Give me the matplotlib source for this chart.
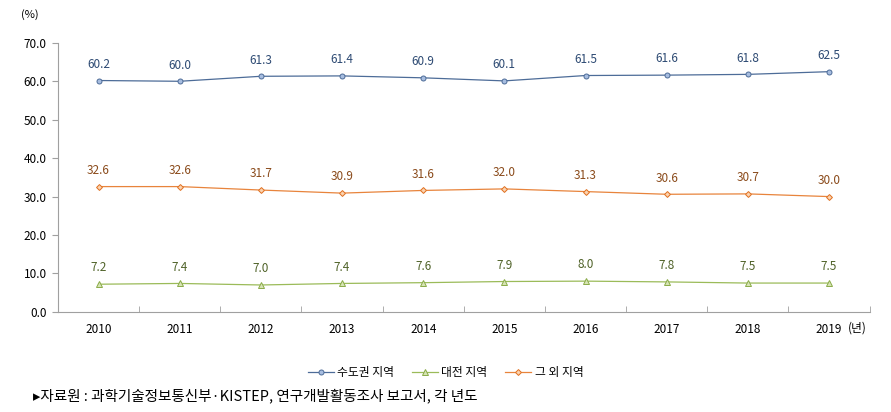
import numpy as np
import matplotlib.pyplot as plt

plt.rcParams['font.family'] = ['Noto Sans CJK KR', 'DejaVu Sans']

years = ['2010', '2011', '2012', '2013', '2014', '2015', '2016', '2017', '2018', '2019']
capital = [60.2, 60.0, 61.3, 61.4, 60.9, 60.1, 61.5, 61.6, 61.8, 62.5]
daejeon = [7.2, 7.4, 7.0, 7.4, 7.6, 7.9, 8.0, 7.8, 7.5, 7.5]
others = [32.6, 32.6, 31.7, 30.9, 31.6, 32.0, 31.3, 30.6, 30.7, 30.0]
series_names = ['수도권 지역', '대전 지역', '그 외 지역']

fig = plt.figure(figsize=(8.91, 4.12), dpi=100)
ax = fig.add_axes([0.065, 0.243, 0.911, 0.653])

x = np.arange(len(years))
styles = [
    (capital, '#4d6c98', '#a7bde0', '#4d6c98', 'o', 3.6, '#2d4a73'),
    (daejeon, '#9bbb59', '#d7e4b5', '#8aab48', '^', 4, '#4f6228'),
    (others, '#e8843c', '#fbd3b0', '#e07020', 'D', 3, '#8a4a1a'),
]
for (vals, lc, mfc, mec, mk, ms, tc), name in zip(styles, series_names):
    ax.plot(x, vals, color=lc, lw=0.9, marker=mk, ms=ms, mfc=mfc, mec=mec,
            mew=0.7, label=name)
    for xi, v in zip(x, vals):
        ax.annotate(f'{v:.1f}', (xi, v), xytext=(0, 7), textcoords='offset points',
                    ha='center', va='bottom', fontsize=8.5, color=tc)

ax.set_xlim(-0.5, len(years) - 0.5)
ax.set_ylim(0, 70)
ax.set_yticks(np.arange(0, 71, 10))
ax.set_yticklabels([f'{v:.1f}' for v in np.arange(0, 71, 10)], fontsize=8.5)
ax.set_xticks(x)
ax.set_xticklabels(years, fontsize=8.5)
ax.set_xticks(np.arange(-0.5, len(years)), minor=True)
ax.tick_params(axis='x', which='major', length=0, pad=8)
ax.tick_params(axis='x', which='minor', length=4, color='#a0a0a0', direction='in')
ax.tick_params(axis='y', length=4, color='#a0a0a0', pad=4)
for s in ['top', 'right']:
    ax.spines[s].set_visible(False)
for s in ['left', 'bottom']:
    ax.spines[s].set_color('#a0a0a0')

fig.text(0.034, 0.965, '(%)', fontsize=8, ha='center', va='center')
fig.text(0.962, 0.205, '(년)', fontsize=8.5, ha='center', va='center')

fig.legend(loc='center', bbox_to_anchor=(0.5, 0.095), ncol=3, frameon=False,
           fontsize=8.5, handlelength=2.2, columnspacing=1.5, handletextpad=0.3)

fig.text(0.037, 0.038, '▸자료원 : 과학기술정보통신부·KISTEP, 연구개발활동조사 보고서, 각 년도',
         fontsize=10.5, ha='left', va='center')

fig.savefig('out.png', dpi=100)
